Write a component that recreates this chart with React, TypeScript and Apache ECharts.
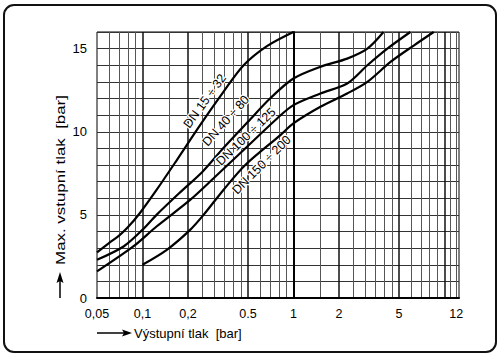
import React, { useEffect, useRef } from "react";
import * as echarts from "echarts";

// ---- data ----
const X_MIN = 0.05;
const X_MAX = 12.5;
const Y_MIN = 0;
const Y_MAX = 16;
const X_TICKS = [0.05, 0.1, 0.2, 0.5, 1, 2, 5, 12];
const X_TICK_LABELS = ["0,05", "0,1", "0,2", "0.5", "1", "2", "5", "12"];
const Y_TICKS = [0, 5, 10, 15];
const X_MINOR_GRID = [0.06, 0.07, 0.08, 0.09, 0.15, 0.25, 0.3, 0.35, 0.4, 0.45, 0.6, 0.7, 0.8, 0.9, 1.5, 2.5, 3, 3.5, 4, 4.5, 6, 7, 8, 9, 11, 12];
const X_MAJOR_GRID = [0.1, 0.2, 0.5, 1, 2, 5, 10];

const CURVE_NAMES = ["DN 15 ÷ 32", "DN 40 ÷ 80", "DN 100 ÷ 125", "DN 150 ÷ 200"];
const CURVE_DN15_32 = [[0.05, 2.75], [0.06, 3.3], [0.07, 3.75], [0.08, 4.25], [0.096, 5.1], [0.124, 6.5], [0.169, 8.3], [0.241, 10.4], [0.344, 12.4], [0.468, 14.0], [0.668, 15.15], [1.0, 16.0]];
const CURVE_DN40_80 = [[0.05, 2.3], [0.075, 3.1], [0.1, 4.1], [0.124, 5.0], [0.175, 6.3], [0.25, 7.6], [0.35, 9.1], [0.5, 10.6], [0.7, 12.0], [1.0, 13.2], [1.5, 13.9], [2.27, 14.4], [3.09, 15.0], [3.95, 16.0]];
const CURVE_DN100_125 = [[0.05, 1.6], [0.087, 3.1], [0.124, 4.3], [0.207, 5.9], [0.296, 7.2], [0.493, 9.1], [0.78, 10.8], [1.0, 11.6], [1.51, 12.3], [2.27, 12.9], [3.09, 14.0], [4.19, 15.0], [5.95, 16.0]];
const CURVE_DN150_200 = [[0.1, 2.0], [0.145, 2.9], [0.207, 4.1], [0.254, 5.0], [0.344, 6.5], [0.48, 8.0], [0.82, 9.8], [1.0, 10.5], [1.51, 11.5], [2.27, 12.3], [3.09, 13.0], [4.4, 14.2], [6.3, 15.2], [8.5, 16.0]];
const CURVES = [CURVE_DN15_32, CURVE_DN40_80, CURVE_DN100_125, CURVE_DN150_200];
const CURVE_LABEL_AT = [[0.259, 11.85], [0.357, 10.66], [0.485, 9.7], [0.615, 8.0]];
const CURVE_LABEL_ANGLE = [54, 48, 44, 45];

const X_TITLE = "Výstupní tlak  [bar]";
const Y_TITLE = "Max. vstupní tlak  [bar]";

export default function App() {
  const ref = useRef<HTMLDivElement>(null);
  useEffect(() => {
    const chart = echarts.init(ref.current!, null, { renderer: "svg" });
    const lg = (v: number) => Math.log10(v);
    const font = "'Liberation Sans', Arial, Helvetica, sans-serif";
    const xLabel = (v: number) => {
      for (let i = 0; i < X_TICKS.length; i++) {
        if (Math.abs(lg(X_TICKS[i]) - v) < 1e-6) return X_TICK_LABELS[i];
      }
      return "";
    };
    const baseX = { type: "value", min: lg(X_MIN), max: lg(X_MAX), position: "bottom" };
    const option: any = {
      animation: false,
      grid: { left: 97, right: 41, top: 32, bottom: 60, show: true, borderColor: "#000", borderWidth: 1, backgroundColor: "transparent" },
      xAxis: [
        {
          ...baseX,
          axisLine: { show: true, onZero: false, lineStyle: { color: "#000", width: 2 } },
          axisTick: { show: false },
          splitLine: { show: false },
          axisLabel: { customValues: X_TICKS.map(lg), formatter: xLabel, color: "#000", fontSize: 12.5, fontFamily: font, margin: 9 },
        },
        {
          ...baseX,
          axisLine: { show: false },
          axisLabel: { show: false },
          axisTick: { show: false, customValues: X_MINOR_GRID.map(lg) },
          splitLine: { show: true, lineStyle: { color: "#555", width: 1 } },
        },
        {
          ...baseX,
          axisLine: { show: false },
          axisLabel: { show: false },
          axisTick: { show: false, customValues: X_MAJOR_GRID.map(lg) },
          splitLine: { show: true, lineStyle: { color: "#111", width: 1.5 } },
        },
      ],
      yAxis: {
        type: "value",
        min: Y_MIN,
        max: Y_MAX,
        interval: 1,
        axisLine: { show: true, lineStyle: { color: "#000", width: 2 } },
        axisTick: { show: false },
        axisLabel: { customValues: Y_TICKS, color: "#000", fontSize: 13, fontFamily: font, margin: 10 },
        splitLine: { show: true, lineStyle: { color: "#333", width: 1 } },
      },
      series: CURVES.map((c, i) => ({
        type: "line",
        name: CURVE_NAMES[i],
        xAxisIndex: 0,
        yAxisIndex: 0,
        data: c.map(([x, y]) => [lg(x), y]),
        smooth: 0.3,
        symbol: "none",
        z: 3,
        lineStyle: { color: "#000", width: 2.2 },
        markPoint: {
          symbol: "circle",
          symbolSize: 0,
          silent: true,
          z: 6,
          data: [{ coord: [lg(CURVE_LABEL_AT[i][0]), CURVE_LABEL_AT[i][1]], value: CURVE_NAMES[i] }],
          label: {
            show: true,
            position: "inside",
            formatter: CURVE_NAMES[i],
            rotate: CURVE_LABEL_ANGLE[i],
            color: "#000",
            fontSize: 12.5,
            fontFamily: font,
            textBorderColor: "#fff",
            textBorderWidth: 2.5,
          },
        },
      })),
      graphic: [
        { type: "rect", silent: true, shape: { x: 4, y: 5, width: 492, height: 347, r: 10 }, style: { fill: "none", stroke: "#111", lineWidth: 2 } },
        { type: "line", silent: true, shape: { x1: 97, y1: 333, x2: 125, y2: 333 }, style: { stroke: "#000", lineWidth: 1.5 } },
        { type: "polygon", silent: true, shape: { points: [[122, 329.5], [132, 333], [122, 336.5], [124, 333]] }, style: { fill: "#000" } },
        { type: "text", silent: true, x: 134, y: 333, style: { text: X_TITLE, fill: "#000", fontSize: 13, fontFamily: font, align: "left", verticalAlign: "middle" } },
        { type: "line", silent: true, shape: { x1: 60, y1: 298, x2: 60, y2: 280 }, style: { stroke: "#000", lineWidth: 1.5 } },
        { type: "polygon", silent: true, shape: { points: [[56.5, 283], [60, 272], [63.5, 283], [60, 281]] }, style: { fill: "#000" } },
        { type: "text", silent: true, x: 60, y: 180, rotation: Math.PI / 2, scaleX: 1.3, style: { text: Y_TITLE, fill: "#000", fontSize: 13, fontFamily: font, align: "center", verticalAlign: "middle" } },
      ],
    };
    chart.setOption(option);
    return () => chart.dispose();
  }, []);
  return <div ref={ref} style={{ position: "absolute", left: 0, top: 0, width: 500, height: 358, background: "#fff" }} />;
}
